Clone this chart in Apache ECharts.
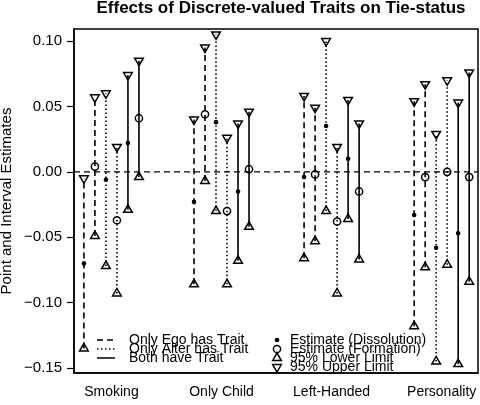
<!DOCTYPE html>
<html><head><meta charset="utf-8">
<script src="https://cdn.jsdelivr.net/npm/echarts@6/dist/echarts.min.js"></script>
<style>html,body{margin:0;padding:0;background:#fff}#c{width:480px;height:405px}</style>
</head><body><div id="c"></div>
<script>
// ---- data ----
const categories = ['Smoking', 'Only Child', 'Left-Handed', 'Personality'];
const yTicks = [-0.15, -0.10, -0.05, 0.00, 0.05, 0.10];

// Only Ego has Trait (dashed)
const egoDissEst = [-0.070, -0.023, -0.004, -0.033];
const egoDissLow = [-0.135, -0.086, -0.066, -0.118];
const egoDissUp  = [-0.005,  0.040,  0.058,  0.054];
const egoFormEst = [ 0.004,  0.044, -0.002, -0.004];
const egoFormLow = [-0.049, -0.007, -0.053, -0.073];
const egoFormUp  = [ 0.057,  0.095,  0.049,  0.067];
// Only Alter has Trait (dotted)
const altDissEst = [-0.006,  0.038,  0.035, -0.058];
const altDissLow = [-0.072, -0.030, -0.030, -0.145];
const altDissUp  = [ 0.060,  0.105,  0.100,  0.029];
const altFormEst = [-0.037, -0.030, -0.038,  0.000];
const altFormLow = [-0.093, -0.086, -0.093, -0.071];
const altFormUp  = [ 0.019,  0.026,  0.019,  0.070];
// Both have Trait (solid)
const bothDissEst = [ 0.022, -0.015,  0.010, -0.047];
const bothDissLow = [-0.029, -0.068, -0.036, -0.147];
const bothDissUp  = [ 0.074,  0.037,  0.055,  0.053];
const bothFormEst = [ 0.041,  0.002, -0.015, -0.004];
const bothFormLow = [-0.004, -0.042, -0.067, -0.084];
const bothFormUp  = [ 0.085,  0.046,  0.037,  0.076];

// ---- styling / layout ----
const FONT = '"Liberation Sans", Arial, Helvetica, sans-serif';
const DASH = [6, 4], DOT = [1.5, 2.5], SOLID = null;
const offsets = [-0.25, -0.15, -0.05, 0.05, 0.15, 0.25];
const xTicks = categories.map((c, i) => i + 1);

const seriesDefs = [
  { name: 'Only Ego has Trait - Dissolution',   est: egoDissEst,  low: egoDissLow,  up: egoDissUp,  dash: DASH,  filled: true },
  { name: 'Only Ego has Trait - Formation',     est: egoFormEst,  low: egoFormLow,  up: egoFormUp,  dash: DASH,  filled: false },
  { name: 'Only Alter has Trait - Dissolution', est: altDissEst,  low: altDissLow,  up: altDissUp,  dash: DOT,   filled: true },
  { name: 'Only Alter has Trait - Formation',   est: altFormEst,  low: altFormLow,  up: altFormUp,  dash: DOT,   filled: false },
  { name: 'Both have Trait - Dissolution',      est: bothDissEst, low: bothDissLow, up: bothDissUp, dash: SOLID, filled: true },
  { name: 'Both have Trait - Formation',        est: bothFormEst, low: bothFormLow, up: bothFormUp, dash: SOLID, filled: false }
];

const TR = 5.0; // triangle circumradius
function triUp(p) { return [[p[0], p[1] - TR], [p[0] - TR * 0.866, p[1] + TR / 2], [p[0] + TR * 0.866, p[1] + TR / 2]]; }
function triDown(p) { return [[p[0], p[1] + TR], [p[0] - TR * 0.866, p[1] - TR / 2], [p[0] + TR * 0.866, p[1] - TR / 2]]; }

const series = [];

// zero reference line (dashed, full plot width)
series.push({
  type: 'custom', name: 'zero', silent: true, clip: false,
  data: [[1, 0]],
  renderItem: function (params, api) {
    const cs = params.coordSys;
    const y = api.coord([api.value(0), api.value(1)])[1];
    return { type: 'line', shape: { x1: cs.x, y1: y, x2: cs.x + cs.width, y2: y },
      style: { stroke: '#000', lineWidth: 1.4, lineDash: DASH } };
  }
});

seriesDefs.forEach((d, si) => series.push({
  type: 'custom',
  name: d.name,
  clip: false,
  silent: true,
  data: d.est.map((e, i) => [i + 1 + offsets[si], e, d.low[i], d.up[i]]),
  renderItem: function (params, api) {
    const x = api.value(0);
    const pE = api.coord([x, api.value(1)]);
    const pL = api.coord([x, api.value(2)]);
    const pU = api.coord([x, api.value(3)]);
    const lineStyle = { stroke: '#000', lineWidth: 1.6 };
    if (d.dash) lineStyle.lineDash = d.dash;
    const children = [
      { type: 'line', shape: { x1: pL[0], y1: pL[1], x2: pU[0], y2: pU[1] }, style: lineStyle },
      { type: 'polygon', shape: { points: triUp(pL) }, style: { fill: 'none', stroke: '#000', lineWidth: 1.5 } },
      { type: 'polygon', shape: { points: triDown(pU) }, style: { fill: 'none', stroke: '#000', lineWidth: 1.5 } },
      d.filled
        ? { type: 'circle', shape: { cx: pE[0], cy: pE[1], r: 2.3 }, style: { fill: '#000' } }
        : { type: 'circle', shape: { cx: pE[0], cy: pE[1], r: 3.6 }, style: { fill: 'none', stroke: '#000', lineWidth: 1.5 } }
    ];
    return { type: 'group', children: children };
  }
}));

// ---- legend drawn with graphic elements ----
const legX1 = 97, legX2 = 115, legTx = 129, legSx = 277, legSTx = 290;
const legRows = [340, 349, 358, 367];
const legLineLabels = ['Only Ego has Trait', 'Only Alter has Trait', 'Both have Trait'];
const legLineDash = [DASH, DOT, SOLID];
const legSymLabels = ['Estimate (Dissolution)', 'Estimate (Formation)', '95% Lower Limit', '95% Upper Limit'];
const graphic = [];
legLineLabels.forEach((t, i) => {
  const st = { stroke: '#000', lineWidth: 1.5 };
  if (legLineDash[i]) st.lineDash = legLineDash[i];
  graphic.push({ type: 'line', shape: { x1: legX1, y1: legRows[i], x2: legX2, y2: legRows[i] }, style: st, silent: true });
  graphic.push({ type: 'text', x: legTx, y: legRows[i], style: { text: t, fill: '#000', fontSize: 14, fontFamily: FONT, verticalAlign: 'middle' }, silent: true });
});
legSymLabels.forEach((t, i) => {
  const p = [legSx, legRows[i]];
  let sym;
  if (i === 0) sym = { type: 'circle', shape: { cx: p[0], cy: p[1], r: 2.3 }, style: { fill: '#000' } };
  else if (i === 1) sym = { type: 'circle', shape: { cx: p[0], cy: p[1], r: 3.6 }, style: { fill: 'none', stroke: '#000', lineWidth: 1.5 } };
  else if (i === 2) sym = { type: 'polygon', shape: { points: triUp(p) }, style: { fill: 'none', stroke: '#000', lineWidth: 1.5 } };
  else sym = { type: 'polygon', shape: { points: triDown(p) }, style: { fill: 'none', stroke: '#000', lineWidth: 1.5 } };
  sym.silent = true;
  graphic.push(sym);
  graphic.push({ type: 'text', x: legSTx, y: legRows[i], style: { text: t, fill: '#000', fontSize: 14, fontFamily: FONT, verticalAlign: 'middle' }, silent: true });
});

const option = {
  animation: false,
  backgroundColor: '#fff',
  title: {
    text: 'Effects of Discrete-valued Traits on Tie-status',
    left: 276, top: -5, textAlign: 'center',
    textStyle: { fontSize: 17, fontWeight: 'bold', color: '#000', fontFamily: FONT }
  },
  grid: { left: 74, right: 2, top: 29, bottom: 32, outerBoundsMode: 'none', containLabel: false,
    show: true, borderColor: '#000', borderWidth: 1.5, backgroundColor: 'transparent' },
  xAxis: {
    type: 'value', min: 0.66, max: 4.33,
    axisLine: { show: true, onZero: false, lineStyle: { color: '#000', width: 1.5 } },
    axisTick: { show: false },
    splitLine: { show: false },
    axisLabel: {
      customValues: xTicks, margin: 12, fontSize: 14, color: '#000', fontFamily: FONT,
      formatter: v => categories[Math.round(v) - 1] || ''
    }
  },
  yAxis: {
    type: 'value', min: -0.1538, max: 0.1092,
    name: 'Point and Interval Estimates', nameLocation: 'middle', nameGap: 60, nameMoveOverlap: false,
    nameTextStyle: { fontSize: 15, color: '#000', fontFamily: FONT },
    axisLine: { show: true, onZero: false, lineStyle: { color: '#000', width: 1.5 } },
    axisTick: { show: true, inside: false, length: 7, customValues: yTicks, lineStyle: { color: '#000', width: 1.2 } },
    splitLine: { show: false },
    axisLabel: {
      customValues: yTicks, margin: 12, fontSize: 15, color: '#000', fontFamily: FONT,
      formatter: v => v.toFixed(2).replace('-', '\u2212')
    }
  },
  graphic: graphic,
  series: series
};

const chart = echarts.init(document.getElementById('c'), null, { renderer: 'canvas' });
chart.setOption(option);
</script>
</body></html>
